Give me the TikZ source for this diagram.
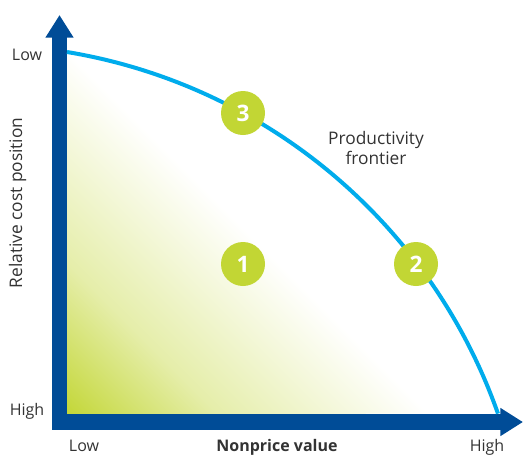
\documentclass[tikz,border=0pt]{standalone}
\usepackage{fontspec}
\setmainfont{Open Sans}
\usetikzlibrary{arrows.meta}

\definecolor{axisblue}{RGB}{0,76,151}
\definecolor{frontierblue}{RGB}{0,172,236}
\definecolor{limegreen}{RGB}{194,214,52}
\definecolor{labelgray}{RGB}{51,51,51}

\pgfdeclarehorizontalshading{frontierfade}{100bp}{color(0bp)=(limegreen); color(14bp)=(limegreen); color(28bp)=(limegreen!42!white); color(47bp)=(white); color(100bp)=(white)}

\tikzset{every picture/.style={line width=0.75pt}}
\tikzset{
	axisbar/.style={draw=axisblue, line width=11.5pt, line join=miter},
	frontier/.style={draw=frontierblue, line width=3pt},
	numdisc/.style={circle, fill=limegreen, minimum size=33pt, inner sep=0pt, text=white, font=\fontsize{17}{17}\selectfont\bfseries},
	ticklabel/.style={text=labelgray, font=\fontsize{12}{14}\selectfont, inner sep=0pt},
	biglabel/.style={text=labelgray, font=\fontsize{13}{15.5}\selectfont, inner sep=0pt},
	axistitle/.style={text=labelgray, font=\fontsize{12}{14}\selectfont\bfseries, inner sep=0pt}
}

\begin{document}
\begin{tikzpicture}[x=0.75pt,y=0.75pt,yscale=-1,xscale=1]
	\useasboundingbox (0,0) rectangle (523,455);

	% Shaded region below the frontier
	\path [shading=frontierfade, shading angle=45] (67,414) -- (67,52) arc[start angle=-80.6, end angle=-19.4, radius=552.6] -- cycle;

	% Axes
	\coordinate (ytip) at (59.5,15);
	\coordinate (origin) at (59.5,422);
	\coordinate (xtip) at (523,422);
	\draw [axisbar, {Triangle[length=17pt, width=20pt]}-{Triangle[length=17pt, width=20pt]}] (ytip) -- (origin) -- (xtip);

	% Frontier curve
	\coordinate (fstart) at (67,52);
	\draw [frontier] (fstart) arc[start angle=-80.6, end angle=-19.4, radius=552.6] coordinate (fend);

	% Numbered discs
	\node [numdisc] (three) at (243,113) {3};
	\node [numdisc] (one) at (243,264) {1};
	\node [numdisc] (two) at (416,264) {2};

	% Text Node
	\node [biglabel, align=center] (frontiertext) at (376,148) {Productivity\\frontier};
	% Text Node
	\node [ticklabel] (ylow) at (27,55) {Low};
	% Text Node
	\node [ticklabel] (yhigh) at (27,411) {High};
	% Text Node
	\node [ticklabel, anchor=base] (xlow) at (84,451) {Low};
	% Text Node
	\node [ticklabel, anchor=base] (xhigh) at (487,451) {High};
	% Text Node
	\node [axistitle, anchor=base] (xtitle) at (277,451) {Nonprice value};
	% Text Node
	\node [biglabel, rotate=90, anchor=base] (ytitle) at (22,203) {Relative cost position};

\end{tikzpicture}
\end{document}
